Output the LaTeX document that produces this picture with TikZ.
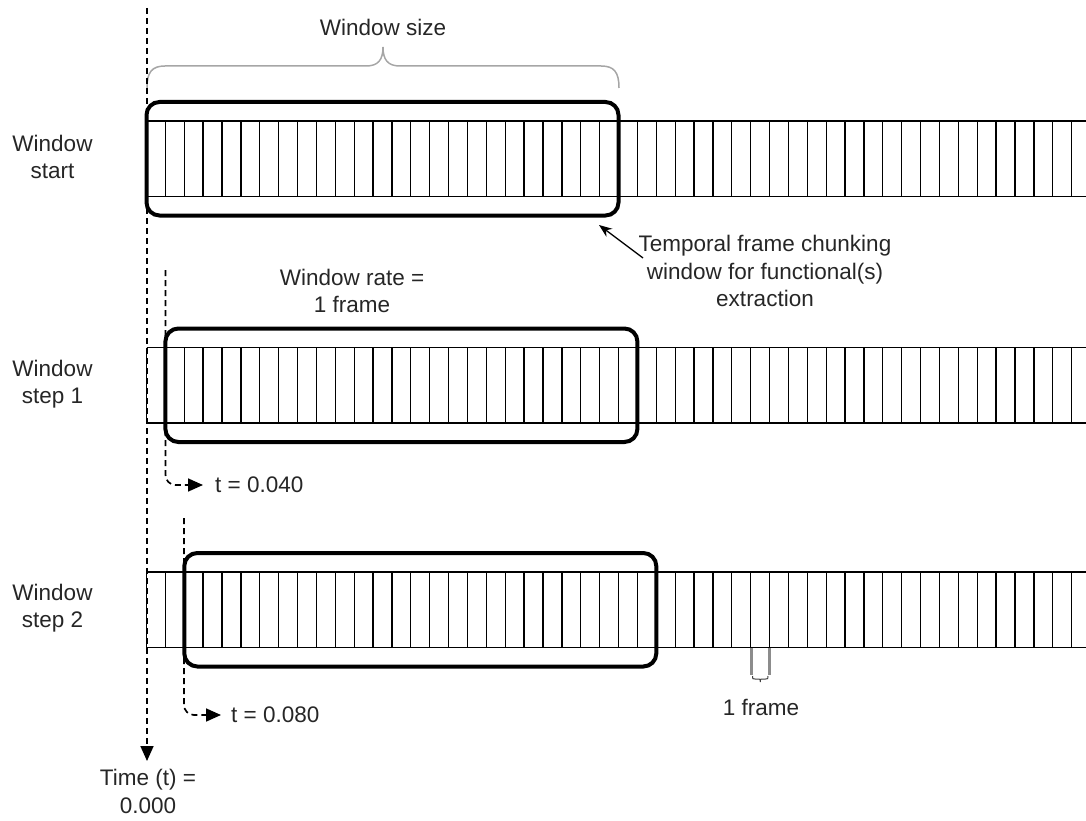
\documentclass[tikz,border=0pt]{standalone}
\usepackage{fontspec}
\setmainfont{Liberation Sans}
\usetikzlibrary{arrows.meta}
\begin{document}
\begin{tikzpicture}[x=1pt,y=-1pt,
  lbl/.style={font=\fontsize{22.5}{27.5}\selectfont, align=center, inner sep=0pt, text=black!85},
  framel/.style={line width=1.3pt, black},
  winbox/.style={line width=4pt, rounded corners=13pt, black},
  tdash/.style={line width=1.7pt, dash pattern=on 6pt off 4pt, rounded corners=10pt, -{Triangle[length=15pt,width=13pt]}},
  bracel/.style={line width=1.5pt, black!35},
  dimline/.style={line width=3pt, black!45},
]
\useasboundingbox (0,0) rectangle (1086,821);
\def\fw{18.88}
% frame strips
\begin{scope}
\clip (0,0) rectangle (1086,821);
\foreach \top in {121,347.5,572} {
  \draw[framel] (146.5,\top) -- (1100,\top);
  \draw[framel] (146.5,\top+75.5) -- (1100,\top+75.5);
  \foreach \k in {0,...,50} \draw[framel] (146.5+\k*\fw,\top) -- ++(0,75.5);
}
\end{scope}
% window boxes
\draw[winbox] (146.5,102) rectangle (618.5,215.5);
\draw[winbox] (165.4,328.5) rectangle (637.4,442);
\draw[winbox] (184.3,553) rectangle (656.3,666.5);
% window size brace
\draw[bracel] (147,88) .. controls (147,72) and (152,66) .. (165,66) -- (366,66)
  .. controls (378,66) and (383,60) .. (383,47)
  .. controls (383,60) and (388,66) .. (400,66) -- (601,66)
  .. controls (614,66) and (619,72) .. (619,88);
\node[lbl, anchor=base] (wsize) at (383,36) {Window size};
% row labels
\node[lbl] (rstart) at (52.5,157) {Window\\start};
\node[lbl] (rstep1) at (52.5,384) {Window\\step 1};
\node[lbl] (rstep2) at (52.5,608) {Window\\step 2};
% time axis
\coordinate (ta0) at (147,8);
\coordinate (ta1) at (147,761);
\draw[tdash] (ta0) -- (ta1);
\node[lbl, anchor=north] (time) at (148,769) {Time (t) =\\0.000};
% step 1 marker
\coordinate (s1a) at (165.5,270);
\coordinate (s1b) at (203,485);
\draw[tdash] (s1a) |- (s1b);
\node[lbl, anchor=west] (t1) at (215,485) {t = 0.040};
% step 2 marker
\coordinate (s2a) at (184,518);
\coordinate (s2b) at (221,715);
\draw[tdash] (s2a) |- (s2b);
\node[lbl, anchor=west] (t2) at (231,715) {t = 0.080};
% window rate
\node[lbl] (rate) at (352,291) {Window rate =\\1 frame};
% temporal annotation
\node[lbl] (temporal) at (765,271) {Temporal frame chunking\\window for functional(s)\\extraction};
\coordinate (tip) at (599,225);
\coordinate (tail) at (643,258);
\draw[line width=1.3pt, -{Stealth[length=13pt,width=10pt]}] (tail) -- (tip);
% one frame dimension
\draw[dimline] (751,648) -- (751,675);
\draw[dimline] (769.5,648) -- (769.5,675);
\draw[line width=1pt, black!75] (752.5,676) .. controls (752.5,679) .. (755,679) -- (758.5,679)
  .. controls (760.3,679) .. (760.3,682) .. controls (760.3,679) .. (762,679) -- (765.5,679)
  .. controls (768,679) .. (768,676);
\node[lbl] (oneframe) at (761,707) {1 frame};
\end{tikzpicture}
\end{document}
